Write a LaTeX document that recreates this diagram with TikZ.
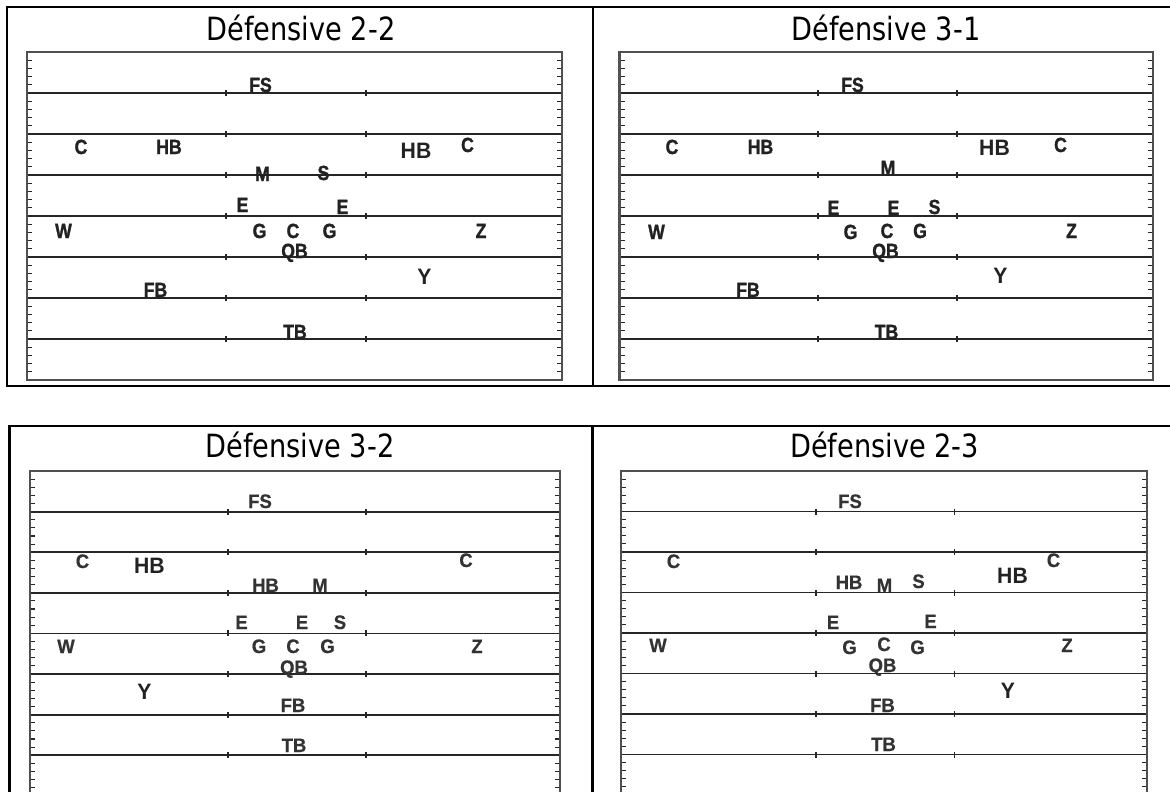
\documentclass[tikz,border=0pt]{standalone}
\usepackage{fontspec}
\newfontfamily\titlefont[FakeStretch=0.85]{DejaVu Sans}
\newfontfamily\labfont[FakeStretch=0.86,FakeBold=1.4]{Liberation Sans}
\newfontfamily\labfontb[FakeStretch=0.95,FakeBold=0.6]{Liberation Sans}
\newfontfamily\bigfont[FakeStretch=0.95]{Liberation Sans}
\definecolor{labcol}{HTML}{222222}
\definecolor{labcolb}{HTML}{333333}
\definecolor{linecol}{HTML}{262626}
\definecolor{bordcol}{HTML}{505050}
\tikzset{
  lab/.style={anchor=base, inner sep=0pt, text=labcol, font=\labfont\bfseries\fontsize{20.5}{21}\selectfont},
  labb/.style={anchor=base, inner sep=0pt, text=labcolb, font=\labfontb\bfseries\fontsize{19.5}{20}\selectfont},
  biglab/.style={anchor=base, inner sep=0pt, text=labcol, font=\bigfont\bfseries\fontsize{22.3}{23}\selectfont},
  ttl/.style={anchor=base, inner sep=0pt, text=black, font=\titlefont\fontsize{32}{34}\selectfont},
  fline/.style={draw=linecol, line width=1.8pt},
  hashtick/.style={draw=linecol, line width=1.3pt},
  yardtick/.style={draw=linecol, line width=1.1pt},
  fborder/.style={draw=bordcol, line width=2.2pt},
  tableline/.style={draw=black, line width=2.4pt}
}
% #1 left, #2 top, #3 right, #4 spacing, #5 hash1, #6 hash2
\newcommand\drawfield[6]{%
  \foreach \i in {1,...,7}{
    \draw[fline] (#1,#2+\i*#4) -- (#3,#2+\i*#4);
    \draw[hashtick] (#5,#2+\i*#4-3) -- (#5,#2+\i*#4+3);
    \draw[hashtick] (#6,#2+\i*#4-3) -- (#6,#2+\i*#4+3);
  }
  \foreach \i in {0,...,7}{
    \foreach \j in {1,...,4}{
      \draw[yardtick] (#1,#2+\i*#4+\j*#4/5) -- (#1+5,#2+\i*#4+\j*#4/5);
      \draw[yardtick] (#3-5,#2+\i*#4+\j*#4/5) -- (#3,#2+\i*#4+\j*#4/5);
    }
  }
  \draw[fborder] (#1,#2) rectangle (#3,#2+8*#4);
}
\newcommand\pl[5][lab]{\node[#1] (#2) at (#3,#4) {#5};}
\begin{document}
\begin{tikzpicture}[x=1pt,y=-1pt]
\useasboundingbox (0,0) rectangle (1170,792);
\clip (0,0) rectangle (1170,792);
\fill[white] (0,0) rectangle (1170,792);

% tables
\draw[tableline] (7,7) rectangle (1190,386);
\draw[tableline] (593,7) -- (593,386);
\draw[tableline] (9.5,426) rectangle (1190,810);
\draw[tableline] (592.5,426) -- (592.5,810);

% titles
\node[ttl] (t1) at (301,40.5) {Défensive 2-2};
\node[ttl] (t2) at (886,40.5) {Défensive 3-1};
\node[ttl] (t3) at (300,457) {Défensive 3-2};
\node[ttl] (t4) at (884.5,457) {Défensive 2-3};

% fields
\drawfield{27}{52}{562}{41}{226}{366}
\drawfield{619.5}{52}{1153}{41}{818}{957}
\drawfield{30}{471}{560}{40.6}{228}{366}
\drawfield{621}{471}{1147}{40.5}{816}{954.5}

% field 1: Defensive 2-2
\pl{a1}{260.5}{92}{FS}
\pl{a2}{81}{154}{C}
\pl{a3}{169}{154}{HB}
\pl{a4}{262.5}{181}{M}
\pl{a5}{323.5}{180}{S}
\pl[biglab]{a6}{416}{158}{HB}
\pl{a7}{467.5}{152}{C}
\pl{a8}{242.5}{212}{E}
\pl{a9}{342.5}{214}{E}
\pl{a10}{63.5}{238}{W}
\pl{a11}{259.5}{238}{G}
\pl{a12}{293}{238}{C}
\pl{a13}{329.5}{238}{G}
\pl{a14}{294.5}{258}{QB}
\pl{a15}{155.5}{297}{FB}
\pl{a16}{295}{339}{TB}
\pl{a17}{481}{238}{Z}
\pl[biglab]{a18}{424.5}{284}{Y}

% field 2: Defensive 3-1
\pl{b1}{852.5}{92}{FS}
\pl{b2}{672}{154}{C}
\pl{b3}{760.5}{154}{HB}
\pl[biglab]{b4}{994.5}{155}{HB}
\pl{b5}{1060.5}{152}{C}
\pl{b6}{888}{175}{M}
\pl{b7}{833.5}{215}{E}
\pl{b8}{893.5}{215}{E}
\pl{b9}{934.5}{214}{S}
\pl{b10}{656.5}{239}{W}
\pl{b11}{850.5}{239}{G}
\pl{b12}{887}{238}{C}
\pl{b13}{920}{238}{G}
\pl{b14}{885.5}{258}{QB}
\pl{b15}{1071.5}{238}{Z}
\pl[biglab]{b16}{1000.5}{283}{Y}
\pl{b17}{748}{297}{FB}
\pl{b18}{886.5}{339}{TB}

% field 3: Defensive 3-2
\pl[labb]{c1}{260}{508}{FS}
\pl[labb]{c2}{82.5}{568}{C}
\pl[biglab]{c3}{149.5}{573}{HB}
\pl[labb]{c4}{466}{567}{C}
\pl[labb]{c5}{265.5}{592}{HB}
\pl[labb]{c6}{320}{592}{M}
\pl[labb]{c7}{241.5}{629}{E}
\pl[labb]{c8}{302}{629}{E}
\pl[labb]{c9}{340}{629}{S}
\pl[labb]{c10}{66}{653}{W}
\pl[labb]{c11}{259}{653}{G}
\pl[labb]{c12}{293}{653}{C}
\pl[labb]{c13}{327.5}{653}{G}
\pl[labb]{c14}{477}{653}{Z}
\pl[labb]{c15}{294}{674}{QB}
\pl[biglab]{c16}{144.5}{699}{Y}
\pl[labb]{c17}{293}{712}{FB}
\pl[labb]{c18}{294}{752}{TB}

% field 4: Defensive 2-3
\pl[labb]{d1}{850}{508}{FS}
\pl[labb]{d2}{673.5}{568}{C}
\pl[labb]{d3}{849}{589}{HB}
\pl[labb]{d4}{884.5}{592}{M}
\pl[labb]{d5}{918.5}{588}{S}
\pl[biglab]{d6}{1012.5}{583}{HB}
\pl[labb]{d7}{1053.5}{567}{C}
\pl[labb]{d8}{833}{629}{E}
\pl[labb]{d9}{930.5}{628}{E}
\pl[labb]{d10}{658}{652}{W}
\pl[labb]{d11}{849.5}{654}{G}
\pl[labb]{d12}{884}{651}{C}
\pl[labb]{d13}{917.5}{654}{G}
\pl[labb]{d14}{1067}{652}{Z}
\pl[labb]{d15}{882.5}{672}{QB}
\pl[biglab]{d16}{1008}{698}{Y}
\pl[labb]{d17}{882.5}{712}{FB}
\pl[labb]{d18}{883.5}{751}{TB}
\end{tikzpicture}
\end{document}
